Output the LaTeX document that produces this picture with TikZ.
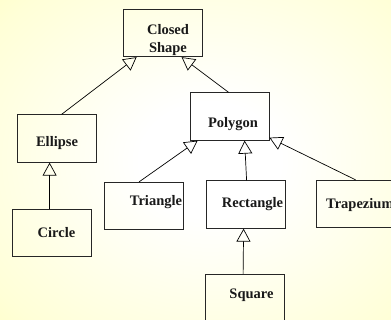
\documentclass[tikz,border=0pt]{standalone}
\usepackage{fontspec}
\setmainfont{Liberation Serif}
\usetikzlibrary{arrows.meta}
\definecolor{bgyel}{RGB}{255,255,160}
\definecolor{bgmid}{RGB}{255,255,215}
\pgfdeclareradialshading{bgshade}{\pgfpoint{0bp}{0bp}}{color(0bp)=(white); color(8bp)=(white); color(30bp)=(bgmid); color(50bp)=(bgyel); color(75bp)=(bgyel)}
\begin{document}
\begin{tikzpicture}[x=1pt,y=-1pt,
  cls/.style={draw=black!85, line width=0.8pt, minimum width=79pt, minimum height=47.5pt, inner sep=0pt},
  lbl/.style={font=\fontsize{14.5}{18}\selectfont\bfseries, anchor=base, inner sep=0pt, text=black!90},
  inh/.style={draw=black, line width=0.7pt, -{Triangle[open, length=13pt, width=14pt, line width=0.7pt]}}]
\useasboundingbox (0,0) rectangle (391,320);
\clip (0,0) rectangle (391,320);
\shade[shading=bgshade] (-10,-20) rectangle (430,340);
% boxes
\node[cls] (closed) at (162.5,33) {};
\node[cls] (ellipse) at (56.5,138.5) {};
\node[cls] (polygon) at (229.5,116.5) {};
\node[cls] (triangle) at (144,206) {};
\node[cls] (rectangle) at (245.5,204.5) {};
\node[cls] (trapezium) at (355.5,204) {};
\node[cls] (circle) at (51.5,233) {};
\node[cls] (square) at (245,298) {};
% labels
\node[lbl] (tclosed) at (168,34.5) {Closed};
\node[lbl] (tshape) at (168,52.5) {Shape};
\node[lbl] (tpolygon) at (233,127.5) {Polygon};
\node[lbl] (tellipse) at (57,147) {Ellipse};
\node[lbl] (ttriangle) at (156,205.5) {Triangle};
\node[lbl] (trectangle) at (252.5,208) {Rectangle};
\node[lbl, anchor=base west] (ttrapezium) at (326,209) {Trapezium};
\node[lbl] (tcircle) at (56.5,238) {Circle};
\node[lbl] (tsquare) at (251.5,299) {Square};
% inheritance connectors
\draw[inh] ([xshift=45pt]ellipse.north west) -- ([xshift=14pt]closed.south west);
\draw[inh] ([xshift=39pt]polygon.north west) -- ([xshift=59pt]closed.south west);
\draw[inh] ([xshift=35pt]triangle.north west) -- ([xshift=8pt]polygon.south west);
\draw[inh] ([xshift=41pt]rectangle.north west) -- ([xshift=55pt]polygon.south west);
\draw[inh] ([xshift=40pt]trapezium.north west) -- ([yshift=3pt]polygon.south east);
\draw[inh] ([xshift=38pt]circle.north west) -- ([xshift=33pt]ellipse.south west);
\draw[inh] ([xshift=38pt]square.north west) -- ([xshift=38pt]rectangle.south west);
\end{tikzpicture}
\end{document}
